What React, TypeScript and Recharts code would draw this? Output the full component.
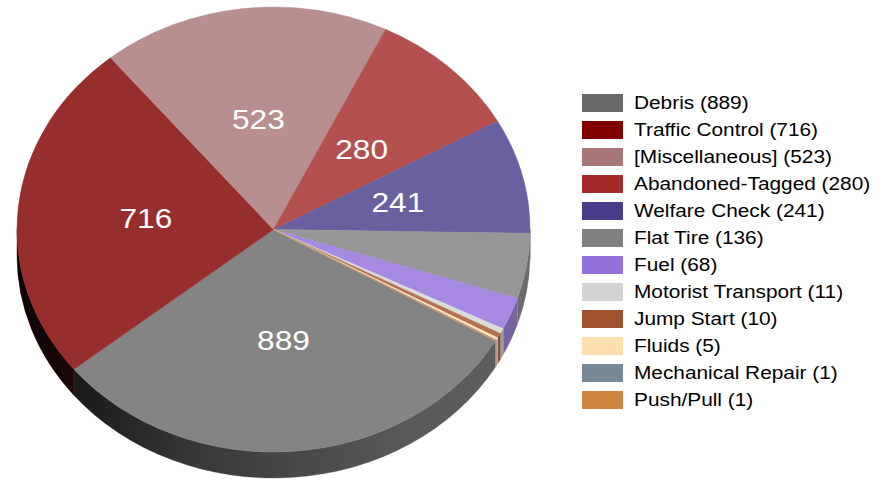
import { PieChart, Pie, Legend } from 'recharts';

const categories = [
  'Debris',
  'Traffic Control',
  '[Miscellaneous]',
  'Abandoned-Tagged',
  'Welfare Check',
  'Flat Tire',
  'Fuel',
  'Motorist Transport',
  'Jump Start',
  'Fluids',
  'Mechanical Repair',
  'Push/Pull',
];
const counts = [889, 716, 523, 280, 241, 136, 68, 11, 10, 5, 1, 1];
const colors = [
  '#696969', '#800000', '#a77777', '#a52a2a', '#483d8b', '#808080',
  '#9370db', '#d3d3d3', '#a0522d', '#ffdead', '#778899', '#cd853f',
];

const data = categories.map((name, i) => ({ name, value: counts[i] }));

// tilted pie geometry
const CX = 273.5;
const CY = 229.5;
const RX = 256.5;
const RY = 222.5;
const DEPTH = 26;
const FONT = '"Liberation Sans", Arial, sans-serif';

// lighter colour for the top face
const lighten = (hex: string, k: number) => {
  const n = parseInt(hex.slice(1), 16);
  const ch = [(n >> 16) & 255, (n >> 8) & 255, n & 255].map((c) => Math.round(c + (255 - c) * k));
  return `rgb(${ch[0]},${ch[1]},${ch[2]})`;
};

const pt = (t: number, r = 1, dy = 0) => {
  const a = (t * Math.PI) / 180;
  return [CX + RX * r * Math.cos(a), CY + RY * r * Math.sin(a) + dy];
};

const renderSlice = (props: any) => {
  const { startAngle, endAngle, index } = props;
  // recharts angles are counter-clockwise, screen param runs clockwise
  const t1 = -startAngle;
  const t2 = -endAngle;
  const top = lighten(colors[index], 0.18);
  const [x1, y1] = pt(t1);
  const [x2, y2] = pt(t2);
  const large = t2 - t1 > 180 ? 1 : 0;
  const topPath = `M${CX},${CY} L${x1},${y1} A${RX},${RY} 0 ${large} 1 ${x2},${y2} Z`;

  const walls: string[] = [];
  [[0, 180], [360, 540]].forEach(([lo, hi]) => {
    const a = Math.max(lo, t1);
    const b = Math.min(hi, t2);
    if (b - a > 0.01) {
      const [ax, ay] = pt(a);
      const [bx, by] = pt(b);
      walls.push(
        `M${ax},${ay} A${RX},${RY} 0 0 1 ${bx},${by} L${bx},${by + DEPTH} A${RX},${RY} 0 0 0 ${ax},${ay + DEPTH} Z`
      );
    }
  });

  const mid = (t1 + t2) / 2;
  const [lx, ly] = pt(mid, 0.5);

  return (
    <g key={`slice-${index}`}>
      {walls.map((d, i) => (
        <g key={i}>
          <path d={d} fill={top} stroke={top} strokeWidth={0.5} />
          <path d={d} fill="url(#wallShade)" />
        </g>
      ))}
      <path d={topPath} fill={top} stroke={top} strokeWidth={0.5} />
      {counts[index] >= 200 && (
        <text
          transform={`translate(${lx},${ly}) scale(1.13,1)`}
          textAnchor="middle"
          dominantBaseline="central"
          fill="#ffffff"
          fontSize={28}
          fontFamily={FONT}
        >
          {counts[index]}
        </text>
      )}
    </g>
  );
};

const renderLegend = () => (
  <div style={{ fontFamily: FONT }}>
    {categories.map((name, i) => (
      <div key={name} style={{ display: 'flex', alignItems: 'center', height: 27 }}>
        <div style={{ width: 41, height: 18, background: colors[i], flexShrink: 0 }} />
        <span
          style={{
            marginLeft: 11,
            fontSize: 17.5,
            color: '#000',
            whiteSpace: 'nowrap',
            transform: 'scaleX(1.19)',
            transformOrigin: 'left center',
          }}
        >
          {`${name} (${counts[i]})`}
        </span>
      </div>
    ))}
  </div>
);

export default function App() {
  return (
    <div style={{ position: 'absolute', left: 0, top: 0, width: 894, height: 480, background: '#fff' }}>
      <PieChart width={894} height={480} margin={{ top: 0, right: 0, bottom: 0, left: 0 }}>
        <defs>
          <linearGradient id="wallShade" gradientUnits="userSpaceOnUse" x1={17} y1={0} x2={530} y2={0}>
            <stop offset="0" stopColor="#000" stopOpacity={0.93} />
            <stop offset="0.12" stopColor="#000" stopOpacity={0.8} />
            <stop offset="0.36" stopColor="#000" stopOpacity={0.57} />
            <stop offset="0.75" stopColor="#000" stopOpacity={0.33} />
            <stop offset="1" stopColor="#000" stopOpacity={0.28} />
          </linearGradient>
        </defs>
        <Pie
          data={data}
          dataKey="value"
          nameKey="name"
          cx={CX}
          cy={CY}
          outerRadius={RX}
          startAngle={-30}
          endAngle={-390}
          fill="none"
          stroke="none"
          label={renderSlice}
          labelLine={false}
          isAnimationActive={false}
        />
        <Legend
          layout="vertical"
          align="right"
          verticalAlign="top"
          content={renderLegend}
          wrapperStyle={{ left: 582, top: 89.5, width: 300, right: 'auto' }}
        />
      </PieChart>
    </div>
  );
}
